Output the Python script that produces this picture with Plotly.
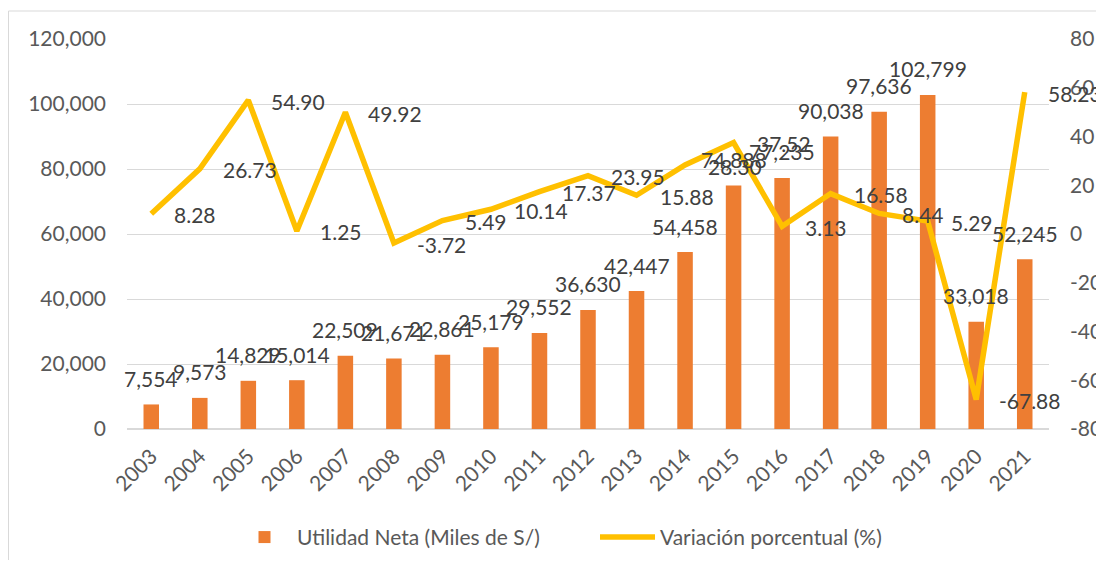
import plotly.graph_objects as go

years = [2003, 2004, 2005, 2006, 2007, 2008, 2009, 2010, 2011, 2012,
         2013, 2014, 2015, 2016, 2017, 2018, 2019, 2020, 2021]
utilidad = [7554, 9573, 14829, 15014, 22509, 21671, 22861, 25179, 29552, 36630,
            42447, 54458, 74888, 77235, 90038, 97636, 102799, 33018, 52245]
variacion = [8.28, 26.73, 54.90, 1.25, 49.92, -3.72, 5.49, 10.14, 17.37, 23.95,
             15.88, 28.30, 37.52, 3.13, 16.58, 8.44, 5.29, -67.88, 58.23]
pct_ticks = [-80, -60, -40, -20, 0, 20, 40, 60, 80]
pct_ticklabels = ["-80", "-60", "-40", "-20", "0", "20", "40", "60", "80"]

FONT = "Lato"
LABEL_COLOR = "#404040"
TICK_COLOR = "#595959"
GRID = "#d9d9d9"

# page body has an 8px default margin, so the figure is offset by 8px;
# keep the figure small enough that no scrollbar appears
W, H = 1096, 552
PW, PH = 922, 390   # plot area size
ML, MT = 119, 31

fig = go.Figure()
fig.add_bar(x=years, y=utilidad, name="Utilidad Neta (Miles de S/)",
            marker=dict(color="#ED7D31", line=dict(width=0)), yaxis="y")
fig.add_scatter(x=years, y=variacion, mode="lines", name="Variación porcentual (%)",
                line=dict(color="#FFC000", width=5.5), yaxis="y2")

annotations = []
for yr, v in zip(years, utilidad):
    annotations.append(dict(x=yr, y=v, xref="x", yref="y", text=f"{v:,}",
                            showarrow=False, yanchor="middle", xanchor="center",
                            yshift=26, font=dict(family=FONT, size=21, color=LABEL_COLOR)))
for yr, v in zip(years, variacion):
    annotations.append(dict(x=yr, y=v, xref="x", yref="y2", text=f"{v:.2f}",
                            showarrow=False, yanchor="middle", xanchor="left",
                            xshift=21, yshift=-1, font=dict(family=FONT, size=21, color=LABEL_COLOR)))

fig.update_layout(
    width=W, height=H,
    margin=dict(l=ML, r=W - ML - PW, t=MT, b=H - MT - PH, autoexpand=False),
    paper_bgcolor="white", plot_bgcolor="white",
    font=dict(family=FONT, size=21, color=TICK_COLOR),
    bargap=0.68,
    showlegend=True,
    legend=dict(orientation="h", x=(232 - 127) / PW, xanchor="left", y=-0.278, yanchor="middle",
                font=dict(family=FONT, size=21, color=TICK_COLOR), itemwidth=55,
                entrywidth=293, bgcolor="rgba(0,0,0,0)"),
    xaxis=dict(range=[2002.5, 2021.5], tickmode="array", tickvals=years,
               ticktext=[str(y) for y in years], tickangle=-45, showgrid=False,
               showline=False, zeroline=False, ticks="", automargin=False,
               ticklabelstandoff=10, tickfont=dict(family=FONT, size=21, color=TICK_COLOR)),
    yaxis=dict(range=[0, 120000], dtick=20000, tickformat=",", showgrid=True,
               gridcolor=GRID, gridwidth=1.3, zeroline=True, zerolinecolor=GRID,
               zerolinewidth=1.5, showline=False, ticks="", ticklabelstandoff=20,
               automargin=False, tickfont=dict(family=FONT, size=21, color=TICK_COLOR)),
    yaxis2=dict(range=[-80, 80], tickmode="array", tickvals=pct_ticks, ticktext=pct_ticklabels,
                overlaying="y", side="right", showgrid=False,
                zeroline=False, showline=False, ticks="", ticklabelstandoff=20,
                automargin=False, tickfont=dict(family=FONT, size=21, color=TICK_COLOR)),
    annotations=annotations,
    shapes=[dict(type="rect", xref="paper", yref="paper", x0=(8.5 - 127) / PW,
                 x1=(1115 - 127) / PW, y0=(428.5 - 580) / PH, y1=(428.5 - 10.5) / PH,
                 line=dict(color=GRID, width=1), fillcolor="rgba(0,0,0,0)", layer="below")],
)

fig.write_html("out.html")
